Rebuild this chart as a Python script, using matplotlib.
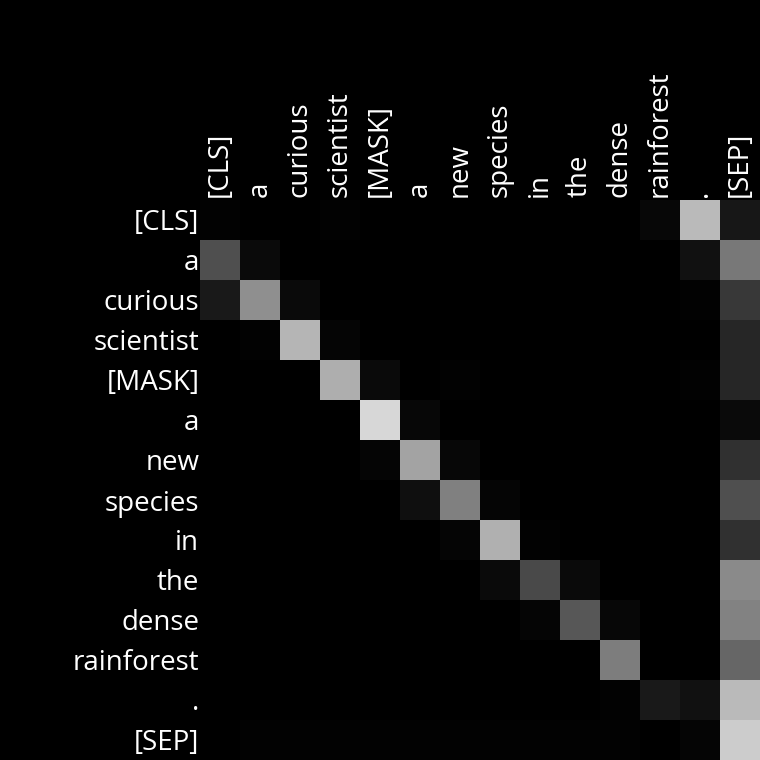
import numpy as np
import matplotlib
matplotlib.use('Agg')
import matplotlib.pyplot as plt

plt.rcParams['font.family'] = ['Open Sans', 'DejaVu Sans']

tokens = ['[CLS]', 'a', 'curious', 'scientist', '[MASK]', 'a', 'new',
          'species', 'in', 'the', 'dense', 'rainforest', '.', '[SEP]']

# attention weights (gray level / 255), rows = query token
row_cls        = [0.01, 0.00, 0.00, 0.01, 0.00, 0.00, 0.00, 0.00, 0.00, 0.00, 0.00, 0.03, 0.73, 0.09]
row_a1         = [0.31, 0.04, 0.00, 0.00, 0.00, 0.00, 0.00, 0.00, 0.00, 0.00, 0.00, 0.00, 0.07, 0.47]
row_curious    = [0.10, 0.56, 0.04, 0.00, 0.00, 0.00, 0.00, 0.00, 0.00, 0.00, 0.00, 0.00, 0.01, 0.22]
row_scientist  = [0.00, 0.01, 0.71, 0.02, 0.00, 0.00, 0.00, 0.00, 0.00, 0.00, 0.00, 0.00, 0.00, 0.15]
row_mask       = [0.00, 0.00, 0.00, 0.68, 0.04, 0.00, 0.01, 0.00, 0.00, 0.00, 0.00, 0.00, 0.01, 0.15]
row_a2         = [0.00, 0.00, 0.00, 0.00, 0.84, 0.03, 0.00, 0.00, 0.00, 0.00, 0.00, 0.00, 0.00, 0.04]
row_new        = [0.00, 0.00, 0.00, 0.00, 0.02, 0.64, 0.03, 0.00, 0.00, 0.00, 0.00, 0.00, 0.00, 0.19]
row_species    = [0.00, 0.00, 0.00, 0.00, 0.00, 0.06, 0.50, 0.02, 0.00, 0.00, 0.00, 0.00, 0.00, 0.31]
row_in         = [0.00, 0.00, 0.00, 0.00, 0.00, 0.00, 0.02, 0.69, 0.01, 0.00, 0.00, 0.00, 0.00, 0.19]
row_the        = [0.00, 0.00, 0.00, 0.00, 0.00, 0.00, 0.00, 0.04, 0.29, 0.04, 0.00, 0.00, 0.00, 0.54]
row_dense      = [0.00, 0.00, 0.00, 0.00, 0.00, 0.00, 0.00, 0.00, 0.02, 0.34, 0.03, 0.00, 0.00, 0.51]
row_rainforest = [0.00, 0.00, 0.00, 0.00, 0.00, 0.00, 0.00, 0.00, 0.00, 0.00, 0.49, 0.00, 0.00, 0.40]
row_period     = [0.00, 0.00, 0.00, 0.00, 0.00, 0.00, 0.00, 0.00, 0.00, 0.00, 0.01, 0.10, 0.07, 0.73]
row_sep        = [0.00, 0.01, 0.01, 0.01, 0.01, 0.01, 0.01, 0.01, 0.01, 0.01, 0.01, 0.00, 0.02, 0.80]

attn = np.array([row_cls, row_a1, row_curious, row_scientist, row_mask, row_a2,
                 row_new, row_species, row_in, row_the, row_dense,
                 row_rainforest, row_period, row_sep])

fig = plt.figure(figsize=(7.6, 7.6), dpi=100)
fig.set_facecolor('#000000')
ax = fig.add_axes([200 / 760, 0, 560 / 760, 560 / 760])
ax.imshow(attn, cmap='gray', vmin=0, vmax=1, aspect='auto', interpolation='nearest')

ax.xaxis.tick_top()
ax.set_xticks(range(len(tokens)))
ax.set_xticklabels(tokens, rotation=90, fontsize=20, color='white')
ax.set_yticks(range(len(tokens)))
ax.set_yticklabels(tokens, fontsize=20, color='white')
ax.tick_params(axis='x', length=0, pad=2)
ax.tick_params(axis='y', length=0, pad=0.5)
for s in ax.spines.values():
    s.set_visible(False)

plt.savefig('out.png', facecolor='#000000')
plt.close()
